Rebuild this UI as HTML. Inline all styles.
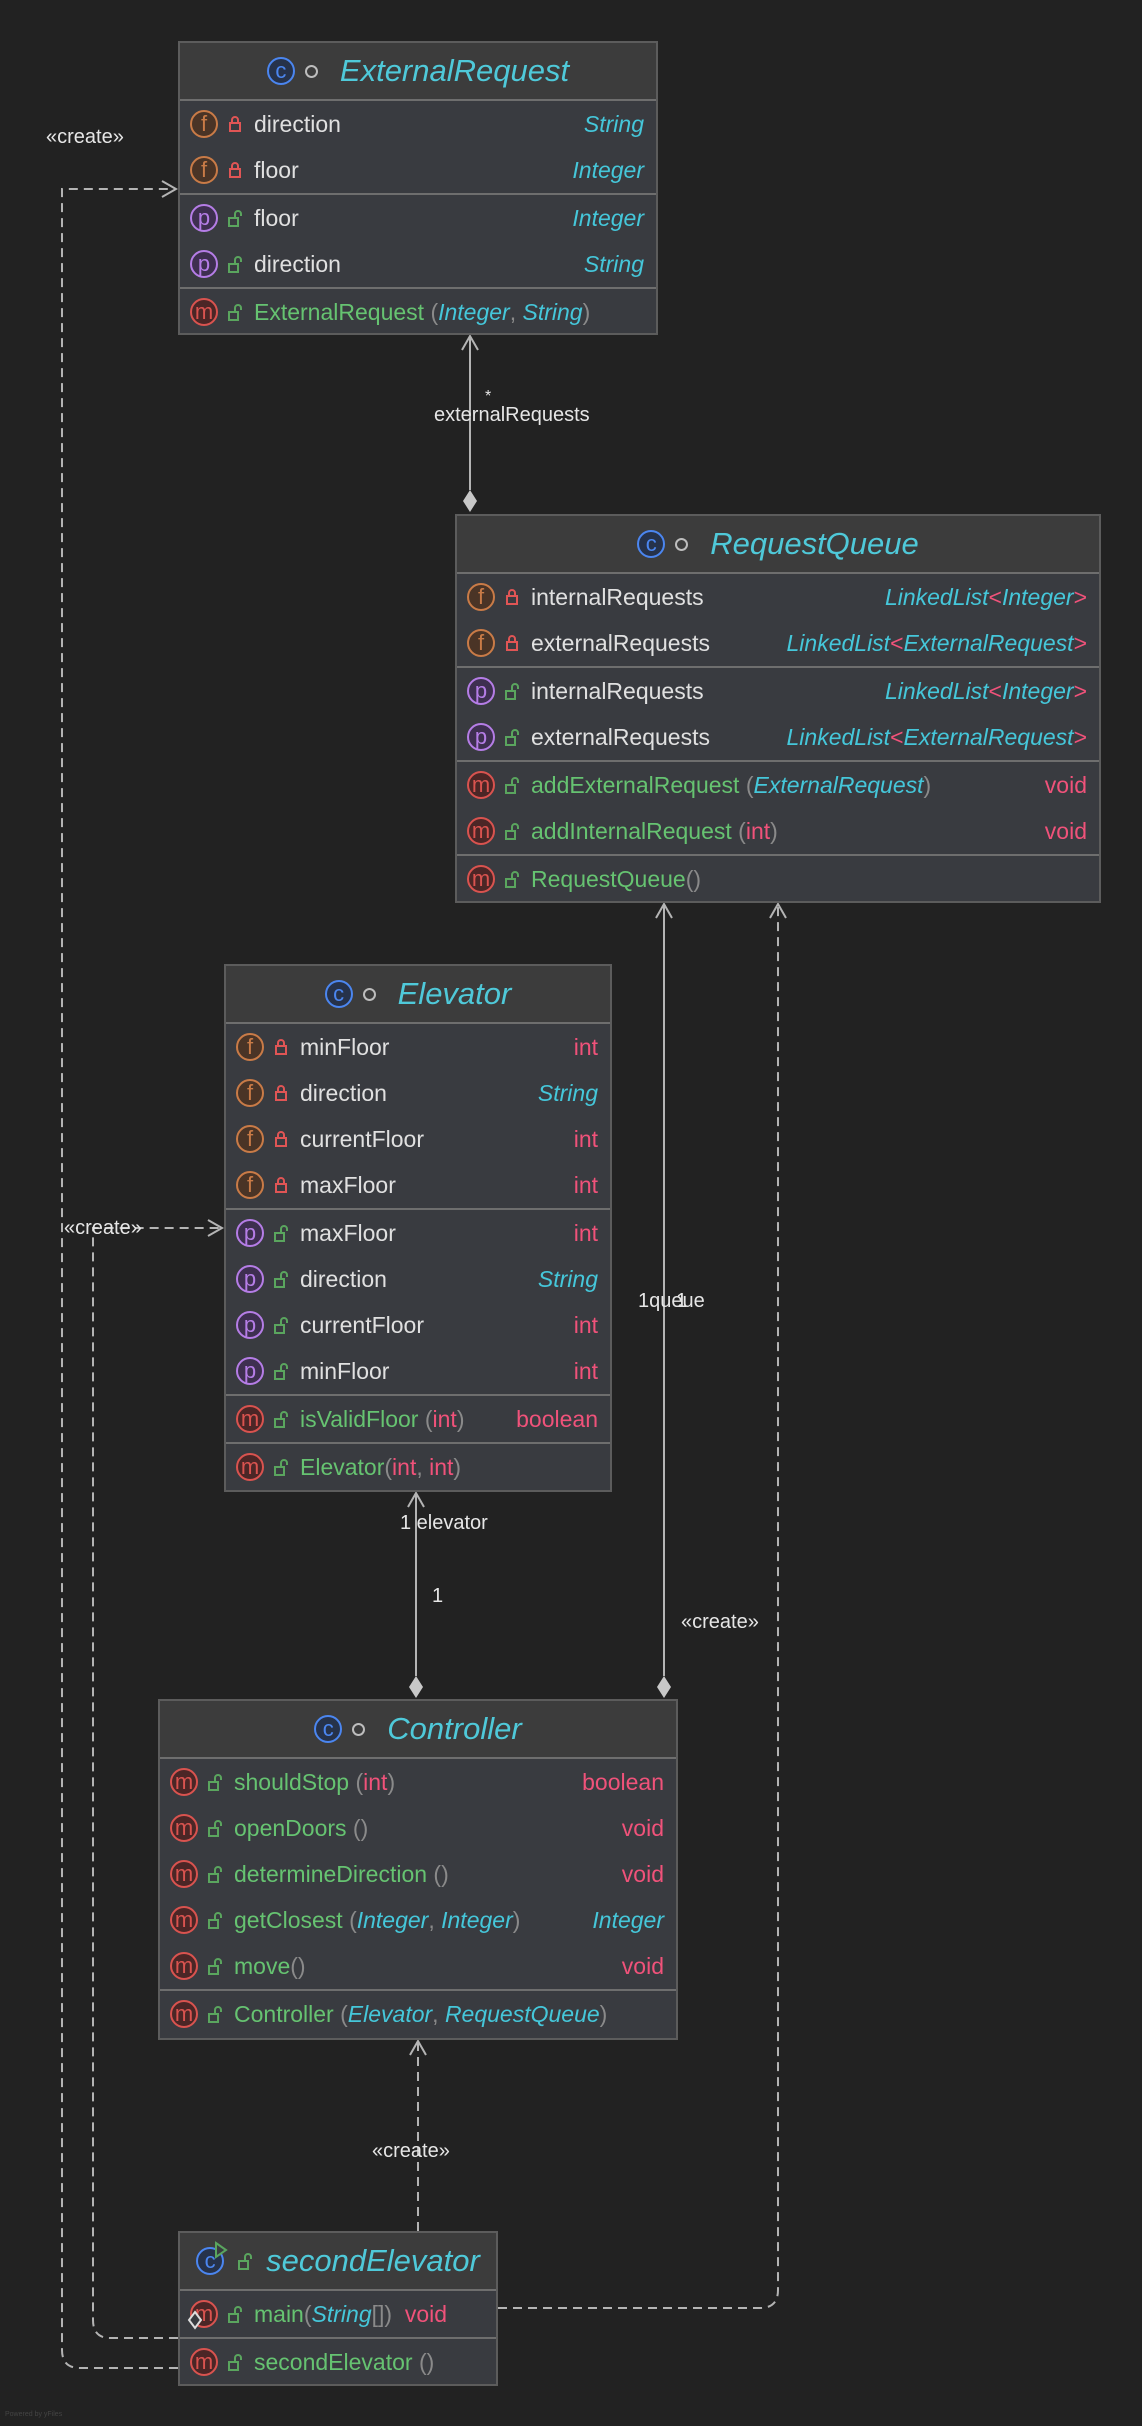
<!DOCTYPE html>
<html><head><meta charset="utf-8"><style>
body{margin:0;background:#222222;width:1142px;height:2426px;position:relative;overflow:hidden;font-family:"Liberation Sans",sans-serif;}
.box{position:absolute;background:#393b40;border:2px solid #5c5c5c;box-sizing:border-box;}
.hd{height:56px;background:#3c3c3c;border-bottom:2px solid #6e6e6e;display:flex;align-items:center;justify-content:center;font-style:italic;font-size:31px;color:#4fc9d9;}
.sec{border-bottom:2px solid #6e6e6e;}
.sec:last-child{border-bottom:none}
.r{height:46px;display:flex;align-items:center;font-size:23px;color:#e0e0e0;white-space:nowrap;position:relative}
.ic{width:24px;height:24px;border-radius:50%;border:2px solid;margin-left:10px;display:inline-flex;align-items:center;justify-content:center;font-size:22px;line-height:1;box-sizing:content-box;position:relative}
.f{border-color:#c97b47;color:#c97b47;background:#4a3426}
.p{border-color:#b57de6;color:#b57de6;background:#3e2f50}
.m{border-color:#d9534f;color:#d9534f;background:#4b2626}
.c{border-color:#4b86f0;color:#4b86f0;background:#26324a;font-style:normal}
.lk{width:14px;height:18px;margin:0 12px 0 10px;display:inline-block}
.n{color:#e0e0e0}
.g{color:#66c371}
.t{color:#45c7da;font-style:italic}
.k{color:#f0527a}
.pr{color:#8a8a8a}
.rt{position:absolute;right:12px}
.dot{width:9px;height:9px;border:2px solid #bdbdbd;border-radius:50%;margin:0 22px 0 10px}
.lbl{position:absolute;color:#e6e6e6;font-size:20px;white-space:nowrap}
</style></head><body>
<svg width="1142" height="2426" style="position:absolute;left:0;top:0">
<g fill="none" stroke="#b4b4b4" stroke-width="2">
<line x1="470" y1="336" x2="470" y2="490"/>
<polyline points="462,350 470,336 478,350"/>
<line x1="416" y1="1493" x2="416" y2="1676"/>
<polyline points="408,1507 416,1493 424,1507"/>
<line x1="664" y1="904" x2="664" y2="1676"/>
<polyline points="656,918 664,904 672,918"/>
<g stroke-dasharray="9,6">
<line x1="418" y1="2231" x2="418" y2="2041"/>
<path d="M498 2308 H760 Q778 2308 778 2290 V904"/>
<path d="M178 2338 H110 Q93 2338 93 2320 V1228 H222"/>
<path d="M178 2368 H80 Q62 2368 62 2350 V189 H176"/>
</g>
<polyline points="410,2055 418,2041 426,2055"/>
<polyline points="770,918 778,904 786,918"/>
<polyline points="208,1220 222,1228 208,1236"/>
<polyline points="162,181 176,189 162,197"/>
</g>
<g fill="#c8c8c8">
<polygon points="470,490 477,501 470,512 463,501"/>
<polygon points="416,1676 423,1687 416,1698 409,1687"/>
<polygon points="664,1676 671,1687 664,1698 657,1687"/>
</g>
</svg>
<svg width="0" height="0" style="position:absolute"><defs>
<g id="lr"><rect x="2" y="8" width="10" height="8" fill="none" stroke="#e05555" stroke-width="2"/><path d="M4 8 V5 a3 3 0 0 1 6 0 V8" fill="none" stroke="#e05555" stroke-width="2"/></g>
<g id="lg"><rect x="1" y="9" width="9" height="8" fill="none" stroke="#5aa55e" stroke-width="2"/><path d="M7 9 V5 a3 3 0 0 1 6 0 V7" fill="none" stroke="#5aa55e" stroke-width="2"/></g>
</defs></svg>

<div class="lbl" style="left:46px;top:126px">«create»</div>
<div class="lbl" style="left:434px;top:404px">externalRequests</div>
<div class="lbl" style="left:485px;top:388px;font-size:16px">*</div>
<div class="lbl" style="left:64px;top:1217px">«create»</div>
<div class="lbl" style="left:638px;top:1290px">1queue</div>
<div class="lbl" style="left:676px;top:1290px">1</div>
<div class="lbl" style="left:400px;top:1512px">1 elevator</div>
<div class="lbl" style="left:432px;top:1585px">1</div>
<div class="lbl" style="left:681px;top:1611px">«create»</div>
<div class="lbl" style="left:372px;top:2140px">«create»</div>

<!-- ExternalRequest -->
<div class="box" style="left:178px;top:41px;width:480px;height:294px">
<div class="hd"><span class="ic c" style="margin:0">c</span><span class="dot"></span>ExternalRequest</div>
<div class="sec">
<div class="r"><span class="ic f">f</span><svg class="lk"><use href="#lr"/></svg><span class="n">direction</span><span class="t rt">String</span></div>
<div class="r"><span class="ic f">f</span><svg class="lk"><use href="#lr"/></svg><span class="n">floor</span><span class="t rt">Integer</span></div>
</div><div class="sec">
<div class="r"><span class="ic p">p</span><svg class="lk"><use href="#lg"/></svg><span class="n">floor</span><span class="t rt">Integer</span></div>
<div class="r"><span class="ic p">p</span><svg class="lk"><use href="#lg"/></svg><span class="n">direction</span><span class="t rt">String</span></div>
</div><div class="sec">
<div class="r"><span class="ic m">m</span><svg class="lk"><use href="#lg"/></svg><span class="g">ExternalRequest</span>&nbsp;<span class="pr">(</span><span class="t">Integer</span><span class="pr">,&nbsp;</span><span class="t">String</span><span class="pr">)</span></div>
</div></div>

<!-- RequestQueue -->
<div class="box" style="left:455px;top:514px;width:646px;height:389px">
<div class="hd"><span class="ic c" style="margin:0">c</span><span class="dot"></span>RequestQueue</div>
<div class="sec">
<div class="r"><span class="ic f">f</span><svg class="lk"><use href="#lr"/></svg><span class="n">internalRequests</span><span class="rt"><span class="t">LinkedList</span><span class="k">&lt;</span><span class="t">Integer</span><span class="k">&gt;</span></span></div>
<div class="r"><span class="ic f">f</span><svg class="lk"><use href="#lr"/></svg><span class="n">externalRequests</span><span class="rt"><span class="t">LinkedList</span><span class="k">&lt;</span><span class="t">ExternalRequest</span><span class="k">&gt;</span></span></div>
</div><div class="sec">
<div class="r"><span class="ic p">p</span><svg class="lk"><use href="#lg"/></svg><span class="n">internalRequests</span><span class="rt"><span class="t">LinkedList</span><span class="k">&lt;</span><span class="t">Integer</span><span class="k">&gt;</span></span></div>
<div class="r"><span class="ic p">p</span><svg class="lk"><use href="#lg"/></svg><span class="n">externalRequests</span><span class="rt"><span class="t">LinkedList</span><span class="k">&lt;</span><span class="t">ExternalRequest</span><span class="k">&gt;</span></span></div>
</div><div class="sec">
<div class="r"><span class="ic m">m</span><svg class="lk"><use href="#lg"/></svg><span class="g">addExternalRequest</span>&nbsp;<span class="pr">(</span><span class="t">ExternalRequest</span><span class="pr">)</span><span class="k rt">void</span></div>
<div class="r"><span class="ic m">m</span><svg class="lk"><use href="#lg"/></svg><span class="g">addInternalRequest</span>&nbsp;<span class="pr">(</span><span class="k">int</span><span class="pr">)</span><span class="k rt">void</span></div>
</div><div class="sec">
<div class="r"><span class="ic m">m</span><svg class="lk"><use href="#lg"/></svg><span class="g">RequestQueue</span><span class="pr">()</span></div>
</div></div>

<!-- Elevator -->
<div class="box" style="left:224px;top:964px;width:388px;height:528px">
<div class="hd"><span class="ic c" style="margin:0">c</span><span class="dot"></span>Elevator</div>
<div class="sec">
<div class="r"><span class="ic f">f</span><svg class="lk"><use href="#lr"/></svg><span class="n">minFloor</span><span class="k rt">int</span></div>
<div class="r"><span class="ic f">f</span><svg class="lk"><use href="#lr"/></svg><span class="n">direction</span><span class="t rt">String</span></div>
<div class="r"><span class="ic f">f</span><svg class="lk"><use href="#lr"/></svg><span class="n">currentFloor</span><span class="k rt">int</span></div>
<div class="r"><span class="ic f">f</span><svg class="lk"><use href="#lr"/></svg><span class="n">maxFloor</span><span class="k rt">int</span></div>
</div><div class="sec">
<div class="r"><span class="ic p">p</span><svg class="lk"><use href="#lg"/></svg><span class="n">maxFloor</span><span class="k rt">int</span></div>
<div class="r"><span class="ic p">p</span><svg class="lk"><use href="#lg"/></svg><span class="n">direction</span><span class="t rt">String</span></div>
<div class="r"><span class="ic p">p</span><svg class="lk"><use href="#lg"/></svg><span class="n">currentFloor</span><span class="k rt">int</span></div>
<div class="r"><span class="ic p">p</span><svg class="lk"><use href="#lg"/></svg><span class="n">minFloor</span><span class="k rt">int</span></div>
</div><div class="sec">
<div class="r"><span class="ic m">m</span><svg class="lk"><use href="#lg"/></svg><span class="g">isValidFloor</span>&nbsp;<span class="pr">(</span><span class="k">int</span><span class="pr">)</span><span class="k rt">boolean</span></div>
</div><div class="sec">
<div class="r"><span class="ic m">m</span><svg class="lk"><use href="#lg"/></svg><span class="g">Elevator</span><span class="pr">(</span><span class="k">int</span><span class="pr">,&nbsp;</span><span class="k">int</span><span class="pr">)</span></div>
</div></div>

<!-- Controller -->
<div class="box" style="left:158px;top:1699px;width:520px;height:341px">
<div class="hd"><span class="ic c" style="margin:0">c</span><span class="dot"></span>Controller</div>
<div class="sec">
<div class="r"><span class="ic m">m</span><svg class="lk"><use href="#lg"/></svg><span class="g">shouldStop</span>&nbsp;<span class="pr">(</span><span class="k">int</span><span class="pr">)</span><span class="k rt">boolean</span></div>
<div class="r"><span class="ic m">m</span><svg class="lk"><use href="#lg"/></svg><span class="g">openDoors</span>&nbsp;<span class="pr">()</span><span class="k rt">void</span></div>
<div class="r"><span class="ic m">m</span><svg class="lk"><use href="#lg"/></svg><span class="g">determineDirection</span>&nbsp;<span class="pr">()</span><span class="k rt">void</span></div>
<div class="r"><span class="ic m">m</span><svg class="lk"><use href="#lg"/></svg><span class="g">getClosest</span>&nbsp;<span class="pr">(</span><span class="t">Integer</span><span class="pr">,&nbsp;</span><span class="t">Integer</span><span class="pr">)</span><span class="t rt">Integer</span></div>
<div class="r"><span class="ic m">m</span><svg class="lk"><use href="#lg"/></svg><span class="g">move</span><span class="pr">()</span><span class="k rt">void</span></div>
</div><div class="sec">
<div class="r"><span class="ic m">m</span><svg class="lk"><use href="#lg"/></svg><span class="g">Controller</span>&nbsp;<span class="pr">(</span><span class="t">Elevator</span><span class="pr">,&nbsp;</span><span class="t">RequestQueue</span><span class="pr">)</span></div>
</div></div>

<!-- secondElevator -->
<div class="box" style="left:178px;top:2231px;width:320px;height:155px">
<div class="hd"><span class="ic c" style="margin:0">c<svg width="14" height="18" style="position:absolute;left:16px;top:-8px"><polygon points="2,2 12,9 2,16" fill="#393b40" stroke="#5aa55e" stroke-width="2"/></svg></span><svg class="lk" style="margin:0 14px 0 14px"><use href="#lg"/></svg>secondElevator</div>
<div class="sec">
<div class="r"><span class="ic m">m</span><svg class="lk"><use href="#lg"/></svg><span class="g">main</span><span class="pr">(</span><span class="t">String</span><span class="pr">[])</span>&nbsp;&nbsp;<span class="k">void</span></div>
</div><div class="sec">
<div class="r"><span class="ic m">m</span><svg class="lk"><use href="#lg"/></svg><span class="g">secondElevator</span>&nbsp;<span class="pr">()</span></div>
</div></div>
<svg width="1142" height="2426" style="position:absolute;left:0;top:0;pointer-events:none">
<polygon points="195,2312 201,2320 195,2328 189,2320" fill="#393b40" stroke="#dddddd" stroke-width="2"/>
</svg>
<div style="position:absolute;left:5px;top:2411px;font-size:7px;color:#444">Powered by yFiles</div>
</body></html>
